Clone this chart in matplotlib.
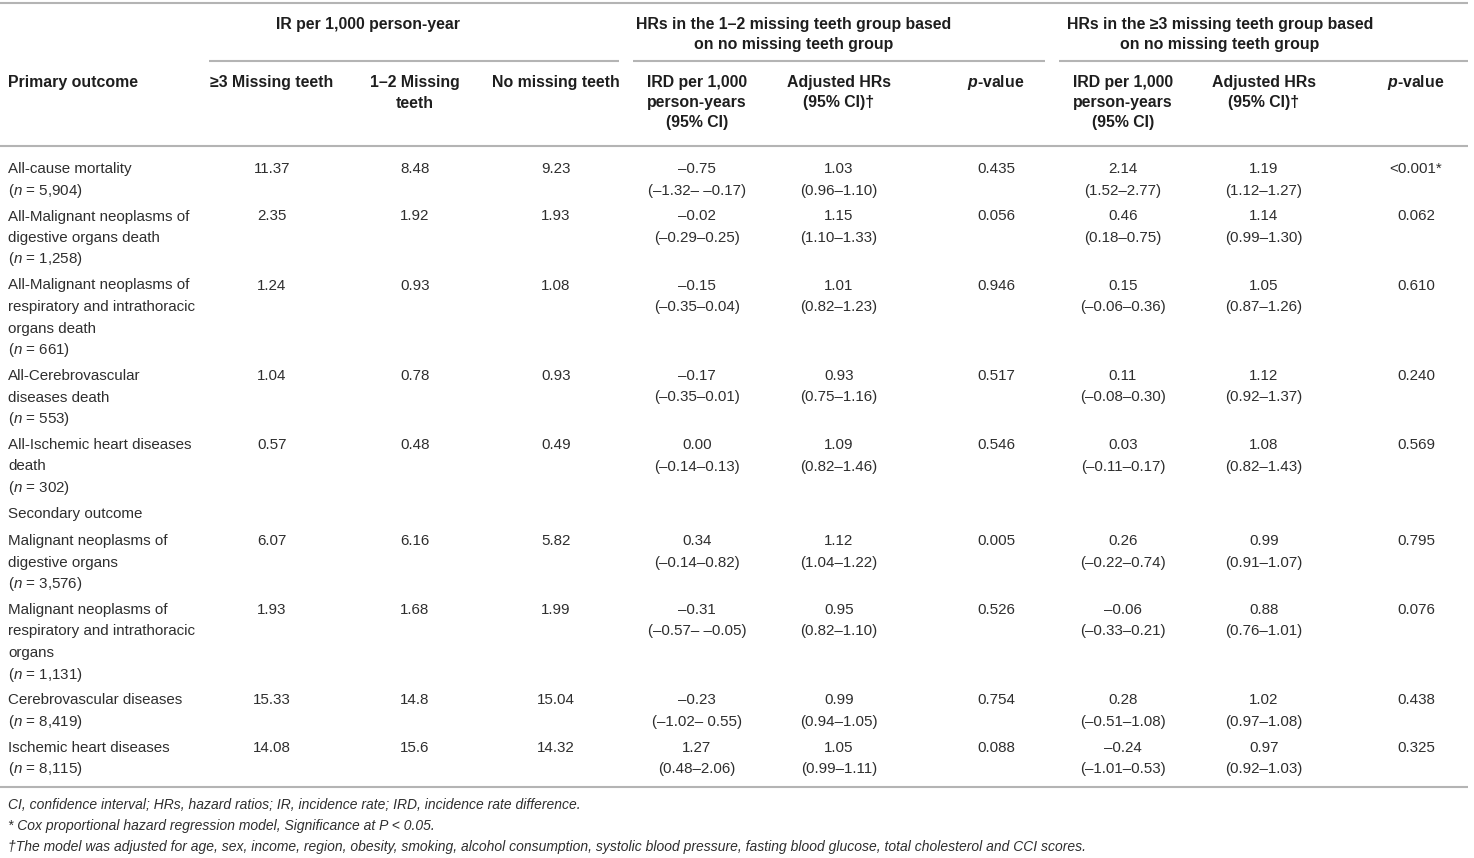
import matplotlib
matplotlib.use('Agg')
import matplotlib.pyplot as plt

plt.rcParams['font.family'] = ['Liberation Sans', 'DejaVu Sans']
plt.rcParams['mathtext.fontset'] = 'custom'
plt.rcParams['mathtext.rm'] = 'Liberation Sans'
plt.rcParams['mathtext.it'] = 'Liberation Sans:italic'
plt.rcParams['mathtext.bf'] = 'Liberation Sans:bold'
try:
    plt.rcParams['mathtext.bfit'] = 'Liberation Sans:bold:italic'
except KeyError:
    pass

# outcome names (lines) and counts
outcomes = [
    ['All-cause mortality'],
    ['All-Malignant neoplasms of', 'digestive organs death'],
    ['All-Malignant neoplasms of', 'respiratory and intrathoracic', 'organs death'],
    ['All-Cerebrovascular', 'diseases death'],
    ['All-Ischemic heart diseases', 'death'],
    ['Malignant neoplasms of', 'digestive organs'],
    ['Malignant neoplasms of', 'respiratory and intrathoracic', 'organs'],
    ['Cerebrovascular diseases'],
    ['Ischemic heart diseases'],
]
n_counts = ['5,904', '1,258', '661', '553', '302', '3,576', '1,131', '8,419', '8,115']

# IR per 1,000 person-year
ir_3plus = ['11.37', '2.35', '1.24', '1.04', '0.57', '6.07', '1.93', '15.33', '14.08']
ir_12 = ['8.48', '1.92', '0.93', '0.78', '0.48', '6.16', '1.68', '14.8', '15.6']
ir_none = ['9.23', '1.93', '1.08', '0.93', '0.49', '5.82', '1.99', '15.04', '14.32']

# 1-2 missing teeth vs none
ird_12 = ['–0.75', '–0.02', '–0.15', '–0.17', '0.00', '0.34', '–0.31', '–0.23', '1.27']
ird_12_ci = ['(–1.32– –0.17)', '(–0.29–0.25)', '(–0.35–0.04)', '(–0.35–0.01)', '(–0.14–0.13)',
             '(–0.14–0.82)', '(–0.57– –0.05)', '(–1.02– 0.55)', '(0.48–2.06)']
hr_12 = ['1.03', '1.15', '1.01', '0.93', '1.09', '1.12', '0.95', '0.99', '1.05']
hr_12_ci = ['(0.96–1.10)', '(1.10–1.33)', '(0.82–1.23)', '(0.75–1.16)', '(0.82–1.46)',
            '(1.04–1.22)', '(0.82–1.10)', '(0.94–1.05)', '(0.99–1.11)']
p_12 = ['0.435', '0.056', '0.946', '0.517', '0.546', '0.005', '0.526', '0.754', '0.088']

# >=3 missing teeth vs none
ird_3 = ['2.14', '0.46', '0.15', '0.11', '0.03', '0.26', '–0.06', '0.28', '–0.24']
ird_3_ci = ['(1.52–2.77)', '(0.18–0.75)', '(–0.06–0.36)', '(–0.08–0.30)', '(–0.11–0.17)',
            '(–0.22–0.74)', '(–0.33–0.21)', '(–0.51–1.08)', '(–1.01–0.53)']
hr_3 = ['1.19', '1.14', '1.05', '1.12', '1.08', '0.99', '0.88', '1.02', '0.97']
hr_3_ci = ['(1.12–1.27)', '(0.99–1.30)', '(0.87–1.26)', '(0.92–1.37)', '(0.82–1.43)',
           '(0.91–1.07)', '(0.76–1.01)', '(0.97–1.08)', '(0.92–1.03)']
p_3 = ['<0.001*', '0.062', '0.610', '0.240', '0.569', '0.795', '0.076', '0.438', '0.325']

footnotes = [
    'CI, confidence interval; HRs, hazard ratios; IR, incidence rate; IRD, incidence rate difference.',
    '* Cox proportional hazard regression model, Significance at P < 0.05.',
    '†The model was adjusted for age, sex, income, region, obesity, smoking, alcohol consumption, '
    'systolic blood pressure, fasting blood glucose, total cholesterol and CCI scores.',
]

W, H = 1474, 858
fig = plt.figure(figsize=(W / 100, H / 100), dpi=100)
ax = fig.add_axes([0, 0, 1, 1])
ax.set_xlim(0, W)
ax.set_ylim(H, 0)
ax.axis('off')

BODY = '#2e2e2e'
HEAD = '#1e1e1e'
LINE = '#b4b4b4'
FS = 10.9
HFS = 11.4
LH = 21.5

cols = [272, 415, 556, 697, 839, 996, 1123, 1264, 1416]

def hline(y, x0=0, x1=1468):
    ax.plot([x0, x1], [y, y], color=LINE, lw=1.5, solid_capstyle='butt')

def head(x, y, s, ha='center'):
    ax.text(x, y, s, ha=ha, va='center', fontsize=HFS, fontweight='bold', color=HEAD)

def body(x, y, s, ha='center'):
    ax.text(x, y, s, ha=ha, va='center', fontsize=FS, color=BODY)

# rules
hline(3)
hline(61, 209, 619)
hline(61, 633, 1045)
hline(61, 1059, 1468)
hline(146)
hline(787)

# group headers
head(368, 24, 'IR per 1,000 person-year')
head(794, 24, 'HRs in the 1–2 missing teeth group based')
head(794, 45, 'on no missing teeth group')
head(1220, 24, 'HRs in the ≥3 missing teeth group based')
head(1220, 45, 'on no missing teeth group')

# column headers
head(8, 83, 'Primary outcome', ha='left')
head(cols[0], 83, '≥3 Missing teeth')
head(cols[1], 83, '1–2 Missing')
head(cols[1], 103, 'teeth')
head(cols[2], 83, 'No missing teeth')
for c in (cols[3], cols[6]):
    head(c, 83, 'IRD per 1,000')
    head(c, 103, 'person-years')
    head(c, 123, '(95% CI)')
for c in (cols[4], cols[7]):
    head(c, 83, 'Adjusted HRs')
    head(c, 103, '(95% CI)†')
for c in (cols[5], cols[8]):
    head(c, 83, r'$\mathbfit{p}$-value')

# body rows
y = 169
for i, name in enumerate(outcomes):
    if i == 5:
        body(8, y, 'Secondary outcome', ha='left')
        y += 27
    lines = name + [r'($\mathit{n}$ = ' + n_counts[i] + ')']
    for k, ln in enumerate(lines):
        body(8, y + k * LH, ln, ha='left')
    body(cols[0], y, ir_3plus[i])
    body(cols[1], y, ir_12[i])
    body(cols[2], y, ir_none[i])
    body(cols[3], y, ird_12[i])
    body(cols[3], y + LH, ird_12_ci[i])
    body(cols[4], y, hr_12[i])
    body(cols[4], y + LH, hr_12_ci[i])
    body(cols[5], y, p_12[i])
    body(cols[6], y, ird_3[i])
    body(cols[6], y + LH, ird_3_ci[i])
    body(cols[7], y, hr_3[i])
    body(cols[7], y + LH, hr_3_ci[i])
    body(cols[8], y, p_3[i])
    y += (len(lines) - 1) * LH + 26

# footnotes
for k, s in enumerate(footnotes):
    ax.text(8, 805 + k * 21, s, ha='left', va='center', fontsize=10.0,
            style='italic', color=BODY)

fig.savefig('out.png', dpi=100)
